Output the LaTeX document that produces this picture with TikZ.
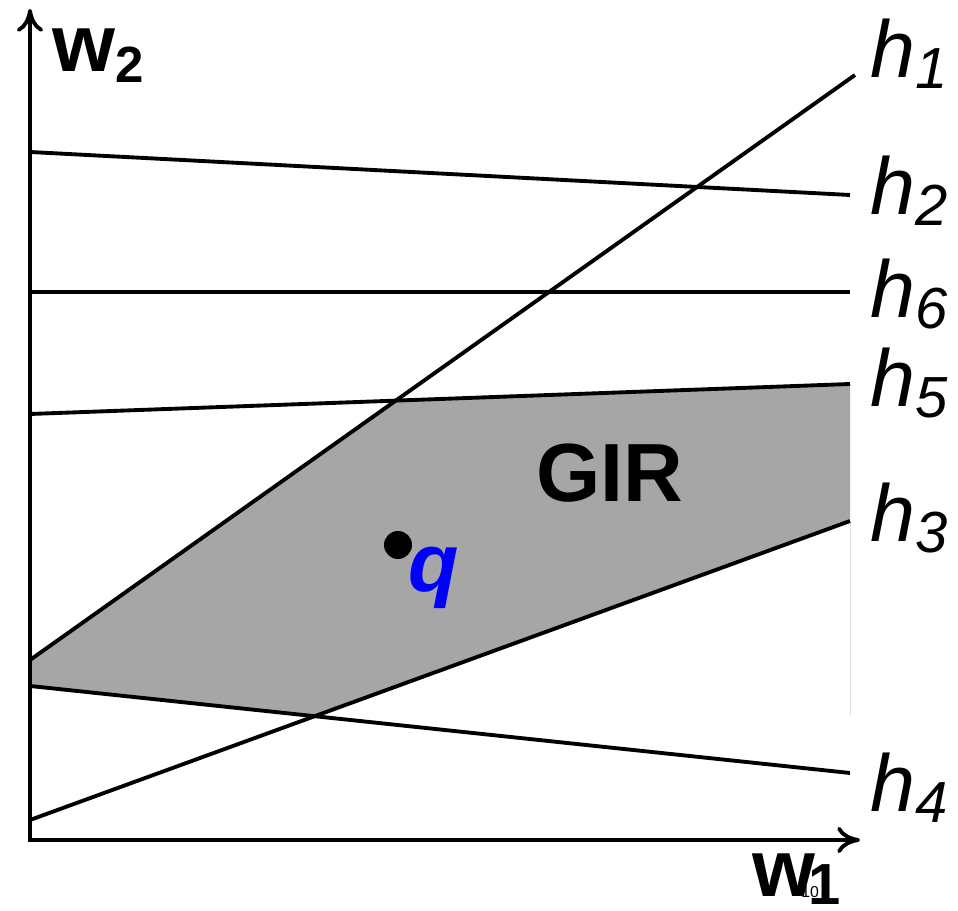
\documentclass[tikz,border=0pt]{standalone}
\usepackage{fontspec}
\setmainfont{Liberation Sans}
\usetikzlibrary{arrows.meta, calc}
\newcommand{\hlab}[1]{\itshape h\raisebox{-5.7pt}{\fontsize{33}{36}\selectfont #1}}

\begin{document}
\begin{tikzpicture}[
    x=0.02cm, y=-0.02cm,
    >={Computer Modern Rightarrow[length=13pt,width=15pt]},
    % Styles
    axis/.style={line width=2.2pt, <->},
    hline/.style={line width=2.2pt},
    hlabel/.style={anchor=base west, inner sep=0pt,
        font=\fontsize{46}{50}\selectfont},
    axlabel/.style={anchor=base west, inner sep=0pt,
        font=\fontsize{46}{50}\selectfont\bfseries},
    region/.style={fill=black!35},
    query/.style={circle, fill=black, inner sep=0pt, minimum size=0.56cm},
]
\useasboundingbox (0,0) rectangle (958,911);

% ===== End points of the lines =====
\coordinate (o) at (30,840);
\coordinate (ytip) at (30,9);
\coordinate (xtip) at (860,840);
\coordinate (h1a) at (30,660);  \coordinate (h1b) at (855,75);
\coordinate (h2a) at (30,152);  \coordinate (h2b) at (850,195);
\coordinate (h6a) at (30,292);  \coordinate (h6b) at (850,292);
\coordinate (h5a) at (30,414);  \coordinate (h5b) at (850,384);
\coordinate (h3a) at (30,820);  \coordinate (h3b) at (850,521);
\coordinate (h4a) at (30,686);  \coordinate (h4b) at (850,773);

% Corners of the GIR
\coordinate (c15) at (intersection of h1a--h1b and h5a--h5b);
\coordinate (c34) at (intersection of h3a--h3b and h4a--h4b);

% ===== Shaded region =====
\fill[region] (h1a) -- (c15) -- (h5b) -- (h3b) -- (c34) -- (h4a) -- cycle;
\coordinate (edge) at (850,715);
\draw[gray!25, line width=0.5pt] (h3b) -- (edge);

% ===== Half-planes =====
\foreach \i in {1,2,6,5,3,4}
    \draw[hline] (h\i a) -- (h\i b);

% ===== Axes =====
\draw[axis] (ytip) |- (xtip);
\node[axlabel] (w2) at (52,72)
    {w\raisebox{-5.7pt}{\fontsize{29}{32}\selectfont 2}};
\node[axlabel] (w1) at (752,897)
    {w\hspace{-4pt}\raisebox{-4.5pt}{\fontsize{33}{36}\selectfont 1}};
\node[anchor=base west, inner sep=0pt, font=\fontsize{9}{10}\selectfont]
    (pg) at (801,898) {10};

% ===== Labels =====
\node[hlabel] (lab1) at (870,78) {\hlab{1}};
\node[hlabel] (lab2) at (870,215) {\hlab{2}};
\node[hlabel] (lab6) at (870,318) {\hlab{6}};
\node[hlabel] (lab5) at (870,407) {\hlab{5}};
\node[hlabel] (lab3) at (870,542) {\hlab{3}};
\node[hlabel] (lab4) at (870,812) {\hlab{4}};

\node[anchor=base, inner sep=0pt, font=\fontsize{47}{50}\selectfont\bfseries]
    (gir) at (610,502) {GIR};

% Query point
\node[query] (q) at (398,545) {};
\node[anchor=base west, inner sep=0pt, text=blue,
    font=\fontsize{47}{50}\selectfont\bfseries\itshape]
    (qlab) at (408,592) {q};

\end{tikzpicture}
\end{document}
